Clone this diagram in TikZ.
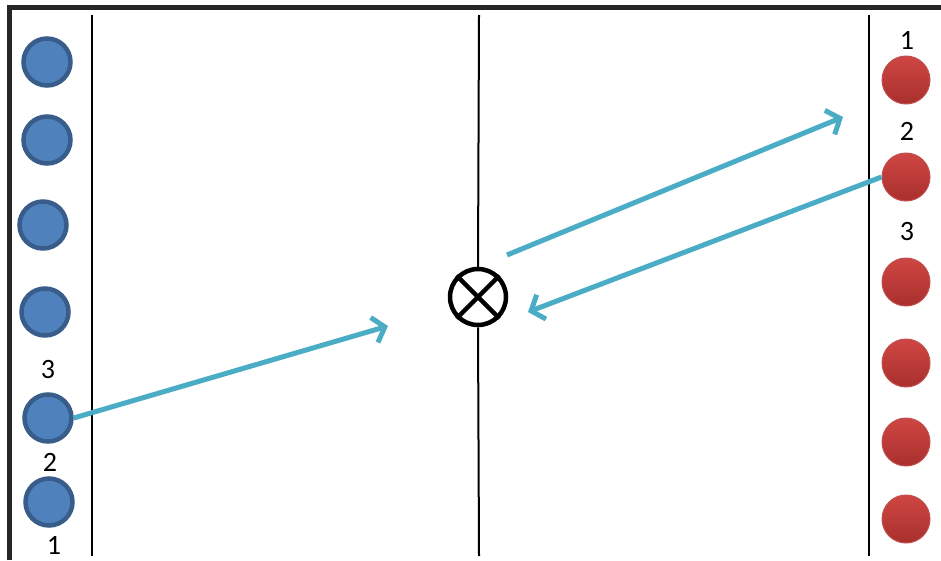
\documentclass[tikz,border=0pt]{standalone}
\usepackage{fontspec}
\setmainfont{Carlito}
\usetikzlibrary{arrows.meta}
\definecolor{frame}{HTML}{262626}
\definecolor{bluefill}{HTML}{4F81BD}
\definecolor{blueedge}{HTML}{385D8A}
\definecolor{redtop}{HTML}{CF4643}
\definecolor{redbot}{HTML}{A8302D}
\definecolor{rededge}{HTML}{C0504D}
\definecolor{beam}{HTML}{4BACC6}
\tikzset{sc/.style={x=1pt,y=-1pt,line width=2pt,font=\fontsize{28}{32}\selectfont},
  bluedot/.style={circle,fill=bluefill,draw=blueedge,line width=4.5pt,minimum size=47pt,inner sep=0pt},
  reddot/.style={circle,top color=redtop,bottom color=redbot,draw=rededge,line width=1pt,minimum size=48pt,inner sep=0pt},
  ray/.style={beam,line width=5pt,-{Straight Barb[length=11pt,width=26pt]}}}

\begin{document}
\begin{tikzpicture}[sc]
  \useasboundingbox (0,0) rectangle (941,560);
  \draw[frame,line width=5pt] (9,560)--(9,7)--(941,7);
  % walls
  \draw (92,15)--(92,556);
  \draw (869,15)--(869,556);
  \node[circle,draw,line width=4.5pt,minimum size=56pt,inner sep=0pt] (ot) at (478,297) {};
  \draw[line width=4.5pt] (ot.45)--(ot.225) (ot.135)--(ot.-45);
  \draw (479,15)--(ot.north) (ot.south)--(479,556);
  % left side
  \foreach \n/\x/\y in {1/47/62,2/47/140,3/43/225,4/45/312,5/48/418,6/49/502}{\node[bluedot] (b\n) at (\x,\y) {};}
  \node (bl3) at (48,370) {3};
  \node (bl2) at (50,462) {2};
  \node (bl1) at (54,545) {1};
  % right side
  \foreach \n/\y in {1/80,2/177,3/282,4/363,5/442,6/519}{\node[reddot] (r\n) at (906,\y) {};}
  \node (rl1) at (907,40) {1};
  \node (rl2) at (907,131) {2};
  \node (rl3) at (907,232) {3};
  % rays
  \coordinate (c1) at (388,326);
  \coordinate (c2) at (507,255);
  \coordinate (c3) at (843,117);
  \coordinate (c4) at (528,312);
  \draw[ray] (b5.east)--(c1);
  \draw[ray] (c2)--(c3);
  \draw[ray] (r2.west)--(c4);
\end{tikzpicture}
\end{document}
